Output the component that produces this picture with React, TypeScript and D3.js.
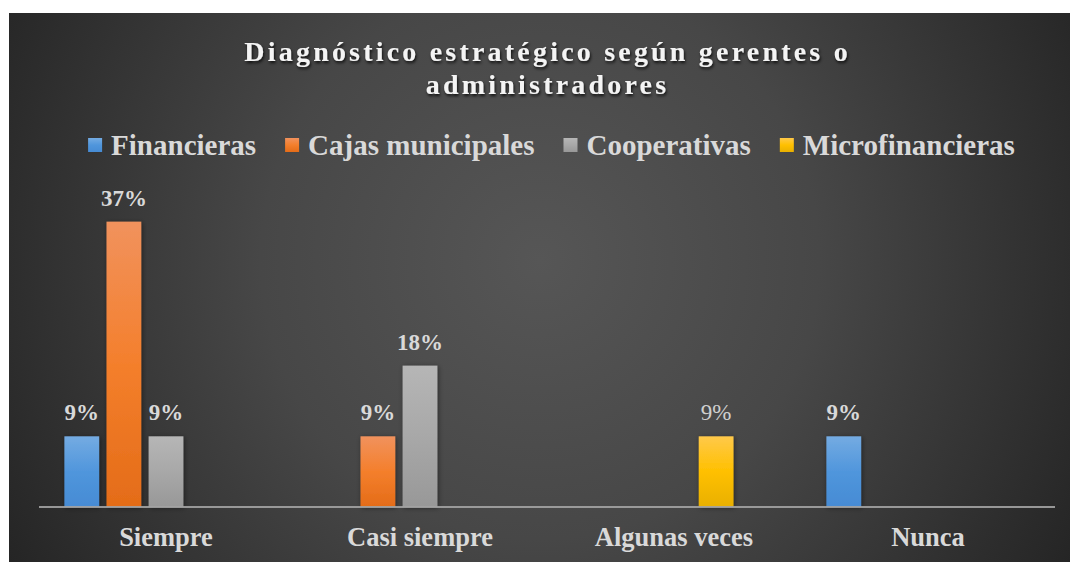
import React, { useEffect, useRef } from "react";
import * as d3 from "d3";

const titleLines = ["Diagnóstico estratégico según gerentes o", "administradores"];
const categories = ["Siempre", "Casi siempre", "Algunas veces", "Nunca"];
const seriesNames = ["Financieras", "Cajas municipales", "Cooperativas", "Microfinancieras"];
const financieras = [0.0909, null, null, 0.0909];
const cajasMunicipales = [0.367, 0.0909, null, null];
const cooperativas = [0.0909, 0.1818, null, null];
const microfinancieras = [null, null, 0.0909, null];
const seriesValues = [financieras, cajasMunicipales, cooperativas, microfinancieras];
// Excel reserves a fifth (empty) slot in every cluster
const slotCount = 5;

const gradients = [
  ["#74abe2", "#5096dc", "#468bd4"],
  ["#f1925d", "#f47f2c", "#e46c18"],
  ["#b6b6b6", "#a8a8a8", "#989898"],
  ["#ffc94a", "#ffc000", "#e9b000"],
];

const W = 1071;
const H = 562;
const FONT = "Liberation Serif, Tinos, Times New Roman, Times, DejaVu Serif, serif";

export default function App() {
  const ref = useRef<SVGSVGElement | null>(null);

  useEffect(() => {
    const svg = d3.select(ref.current);
    svg.selectAll("*").remove();
    const defs = svg.append("defs");

    const bg = defs
      .append("radialGradient")
      .attr("id", "bg")
      .attr("gradientUnits", "userSpaceOnUse")
      .attr("cx", 540)
      .attr("cy", 260)
      .attr("r", 620);
    bg.append("stop").attr("offset", "0%").attr("stop-color", "#565656");
    bg.append("stop").attr("offset", "45%").attr("stop-color", "#474747");
    bg.append("stop").attr("offset", "100%").attr("stop-color", "#242424");

    gradients.forEach((g, i) => {
      const lg = defs
        .append("linearGradient")
        .attr("id", "bar" + i)
        .attr("x1", 0)
        .attr("y1", 0)
        .attr("x2", 0)
        .attr("y2", 1);
      lg.append("stop").attr("offset", "0%").attr("stop-color", g[0]);
      lg.append("stop").attr("offset", "50%").attr("stop-color", g[1]);
      lg.append("stop").attr("offset", "100%").attr("stop-color", g[2]);
    });

    const shadow = defs.append("filter").attr("id", "shadow").attr("x", "-30%").attr("y", "-30%").attr("width", "160%").attr("height", "160%");
    shadow
      .append("feDropShadow")
      .attr("dx", 1)
      .attr("dy", 1)
      .attr("stdDeviation", 2.5)
      .attr("flood-color", "#000")
      .attr("flood-opacity", 0.45);

    const tshadow = defs.append("filter").attr("id", "tshadow").attr("x", "-10%").attr("y", "-30%").attr("width", "120%").attr("height", "160%");
    tshadow
      .append("feDropShadow")
      .attr("dx", 1)
      .attr("dy", 2)
      .attr("stdDeviation", 1.5)
      .attr("flood-color", "#000")
      .attr("flood-opacity", 0.8);

    svg
      .append("rect")
      .attr("x", 9)
      .attr("y", 13)
      .attr("width", 1061)
      .attr("height", H - 13)
      .attr("fill", "url(#bg)");

    // title
    const ls = 3.2;
    const title = svg
      .append("text")
      .attr("text-anchor", "middle")
      .style("font-family", FONT)
      .attr("font-weight", "bold")
      .attr("font-size", 28)
      .attr("letter-spacing", ls)
      .attr("fill", "#f4f4f4")
      .attr("filter", "url(#tshadow)");
    titleLines.forEach((t, i) => {
      title
        .append("tspan")
        .attr("x", 546 + ls / 2)
        .attr("y", 61 + i * 33)
        .text(t);
    });

    // legend
    const legend = svg.append("g");
    const items = legend.selectAll("g").data(seriesNames).join("g");
    items
      .append("text")
      .style("font-family", FONT)
      .attr("font-weight", "bold")
      .attr("font-size", 29)
      .attr("fill", "#d9d9d9")
      .attr("x", 23)
      .attr("y", 155)
      .text((d) => d);
    const widths: number[] = [];
    items.select("text").each(function () {
      widths.push((this as SVGTextElement).getComputedTextLength());
    });
    const gap = 29;
    const itemW = widths.map((w) => 23 + w);
    const total = d3.sum(itemW) + gap * (itemW.length - 1);
    let cx = 551.5 - total / 2;
    items.each(function (_, i) {
      d3.select(this).attr("transform", `translate(${cx},0)`);
      cx += itemW[i] + gap;
    });
    items
      .append("rect")
      .attr("x", 0)
      .attr("y", 138)
      .attr("width", 14)
      .attr("height", 14)
      .attr("fill", (_, i) => `url(#bar${i})`);

    // scales
    const x0 = d3.scaleBand<string>().domain(categories).range([39, 1055]).padding(0);
    const bw = x0.bandwidth();
    const x1 = d3
      .scaleBand<number>()
      .domain(d3.range(slotCount))
      .range([bw * 0.1, bw * 0.9])
      .paddingInner(0.175)
      .paddingOuter(0);
    const y = d3.scaleLinear().domain([0, 0.4]).range([507, 196]);
    const fmt = d3.format(".0%");

    type Pt = { cat: string; s: number; v: number };
    const pts: Pt[] = [];
    seriesValues.forEach((vals, s) => {
      vals.forEach((v, c) => {
        if (v != null) pts.push({ cat: categories[c], s, v });
      });
    });

    const g = svg.append("g");
    g.selectAll("rect")
      .data(pts)
      .join("rect")
      .attr("x", (d) => (x0(d.cat) as number) + (x1(d.s) as number))
      .attr("y", (d) => y(d.v))
      .attr("width", x1.bandwidth())
      .attr("height", (d) => y(0) - y(d.v))
      .attr("fill", (d) => `url(#bar${d.s})`)
      .attr("filter", "url(#shadow)");

    svg
      .append("line")
      .attr("x1", x0.range()[0])
      .attr("x2", x0.range()[1])
      .attr("y1", y(0))
      .attr("y2", y(0))
      .attr("stroke", "#a3a3a3")
      .attr("stroke-opacity", 0.9)
      .attr("stroke-width", 2);

    g.selectAll("text.lbl")
      .data(pts)
      .join("text")
      .attr("class", "lbl")
      .attr("x", (d) => (x0(d.cat) as number) + (x1(d.s) as number) + x1.bandwidth() / 2)
      .attr("y", (d) => y(d.v) - 16)
      .attr("text-anchor", "middle")
      .style("font-family", FONT)
      .attr("font-weight", (d) => (d.s === 3 ? "normal" : "bold"))
      .attr("font-size", 23)
      .attr("fill", (d) => (d.s === 3 ? "#cfcfcf" : "#d9d9d9"))
      .text((d) => fmt(d.v));

    svg
      .append("g")
      .selectAll("text")
      .data(categories)
      .join("text")
      .attr("x", (d) => (x0(d) as number) + bw / 2)
      .attr("y", 546)
      .attr("text-anchor", "middle")
      .style("font-family", FONT)
      .attr("font-weight", "bold")
      .attr("font-size", 26.5)
      .attr("fill", "#d9d9d9")
      .text((d) => d);
  }, []);

  return (
    <svg
      ref={ref}
      width={W}
      height={H}
      style={{ position: "absolute", left: 0, top: 0, background: "#fff" }}
    />
  );
}
